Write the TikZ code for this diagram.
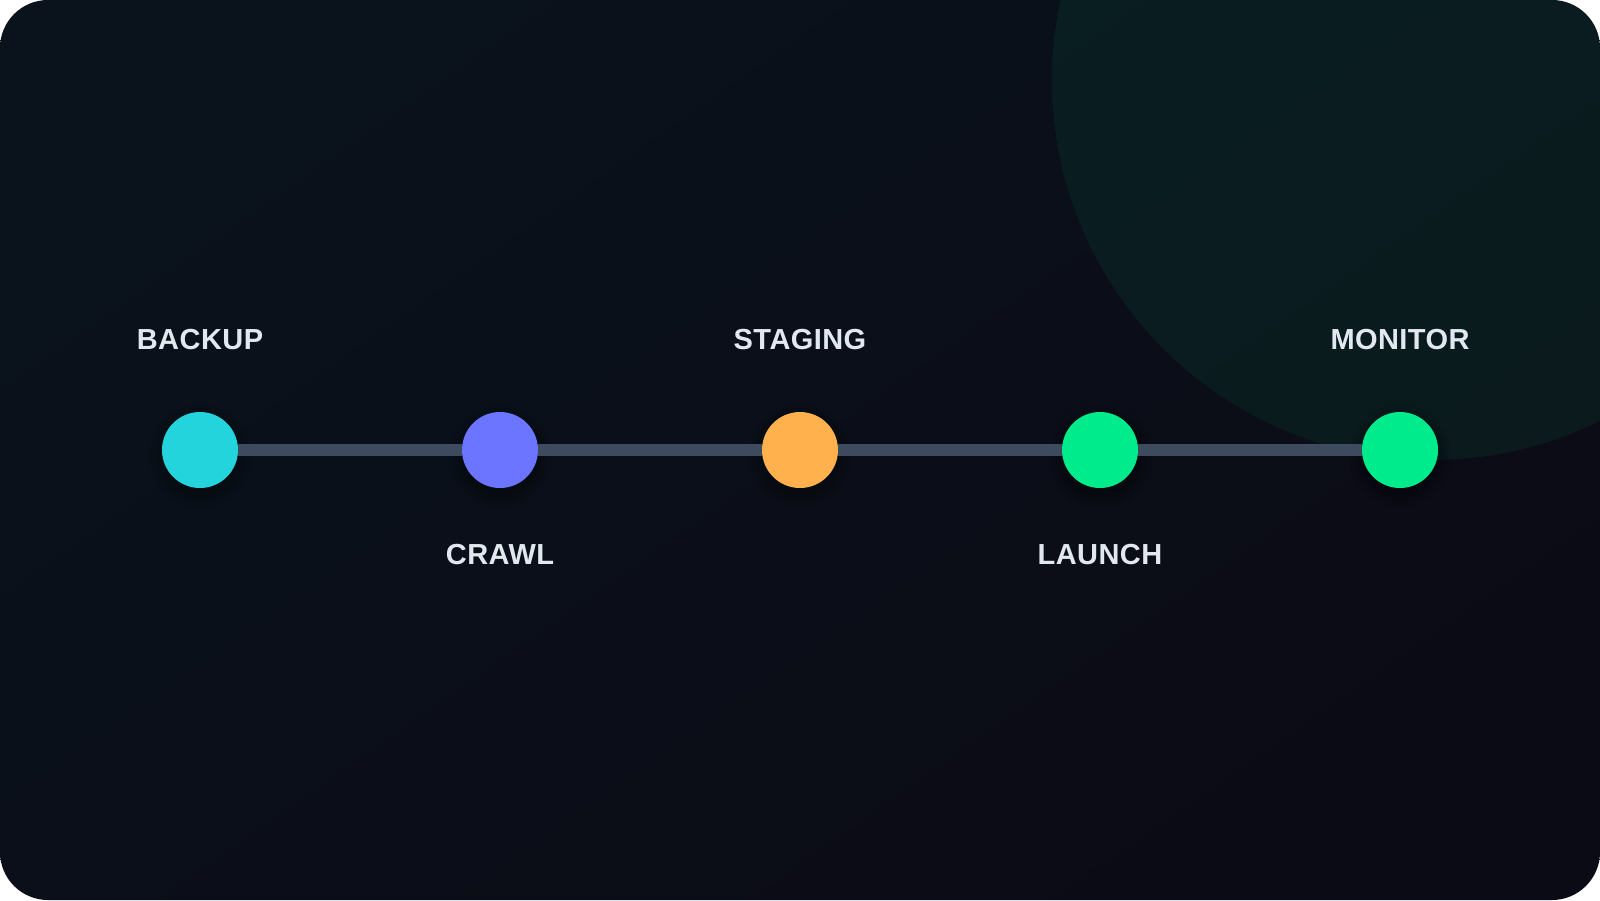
\documentclass[tikz,border=0pt]{standalone}
\usepackage{fontspec}
\setmainfont{Liberation Sans}[LetterSpace=1.5]
\definecolor{bgA}{HTML}{0A121C}
\definecolor{bgB}{HTML}{0B0B15}
\definecolor{glow}{HTML}{00E68A}
\definecolor{cCyan}{HTML}{24D4DC}
\definecolor{cIndigo}{HTML}{6B75FF}
\definecolor{cOrange}{HTML}{FFB14E}
\definecolor{cGreen}{HTML}{00EB8C}
\definecolor{track}{HTML}{3E4A5E}
\definecolor{txt}{HTML}{E2E8F0}
\tikzset{
  dot/.style={circle, minimum size=76pt, inner sep=0pt, draw=none},
  lbl/.style={font=\bfseries\fontsize{29}{33}\selectfont, text=txt, anchor=base, inner sep=0pt},
  trackline/.style={draw=track, line width=12pt},
}
\begin{document}
\begin{tikzpicture}[x=1pt,y=-1pt]
\useasboundingbox (0,0) rectangle (1600,900);
\fill[white] (0,0) rectangle (1600,900);
\begin{scope}
  \clip[rounded corners=48pt] (0,0) rectangle (1600,900);
  \shade[top color=bgA, bottom color=bgB, shading angle=35] (0,0) rectangle (1600,900);
  \fill[glow, opacity=0.065] (1432,80) circle[radius=380];
\end{scope}
% soft shadows under dots
\foreach \x in {200,500,800,1100,1400}{
  \foreach \r in {52,48,44,40}{
    \fill[black, opacity=0.06] (\x,456) circle[radius=\r];
  }
}
\node[dot, fill=cCyan]   (n1) at (200,450) {};
\node[dot, fill=cIndigo] (n2) at (500,450) {};
\node[dot, fill=cOrange] (n3) at (800,450) {};
\node[dot, fill=cGreen]  (n4) at (1100,450) {};
\node[dot, fill=cGreen]  (n5) at (1400,450) {};
\draw[trackline] (n1.east) -- (n2.west);
\draw[trackline] (n2.east) -- (n3.west);
\draw[trackline] (n3.east) -- (n4.west);
\draw[trackline] (n4.east) -- (n5.west);
\node[lbl] (l1) at (200,349) {BACKUP};
\node[lbl] (l2) at (500,564.5) {CRAWL};
\node[lbl] (l3) at (800,349) {STAGING};
\node[lbl] (l4) at (1100,564.5) {LAUNCH};
\node[lbl] (l5) at (1400,349) {MONITOR};
\end{tikzpicture}
\end{document}
